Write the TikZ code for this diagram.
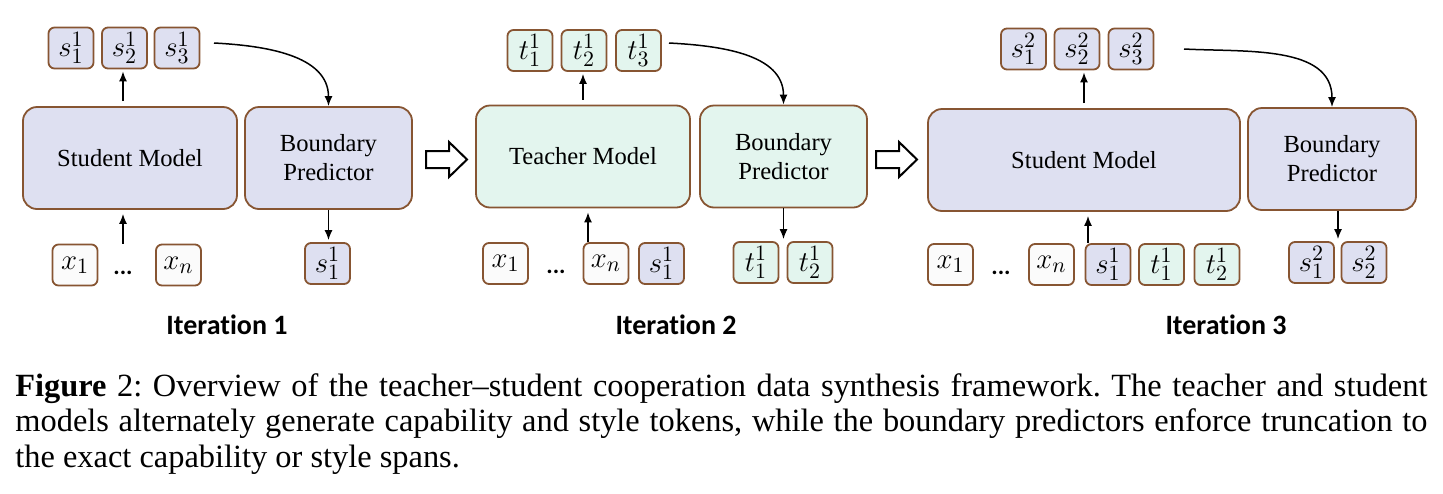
\documentclass[tikz,border=0pt]{standalone}
\usepackage{fontspec}
\setmainfont{Liberation Serif}
\newfontfamily\labelfont[Ligatures=CommonOff]{Carlito}
\usetikzlibrary{arrows.meta}

\definecolor{edgebrown}{RGB}{135,85,50}
\definecolor{studentfill}{RGB}{222,224,241}
\definecolor{teacherfill}{RGB}{227,245,238}
\definecolor{inputfill}{RGB}{251,251,251}

\begin{document}
\begin{tikzpicture}[x=0.5pt,y=-0.5pt,
	model/.style={draw=edgebrown,line width=0.9pt,rounded corners=7pt,minimum height=51pt,align=center,font=\rmfamily\fontsize{12.3}{14.5}\selectfont},
	tok/.style={draw=edgebrown,line width=0.9pt,rounded corners=3pt,minimum width=22.5pt,minimum height=20.5pt,inner sep=0pt,font=\fontsize{15}{17}\selectfont},
	stu/.style={fill=studentfill},
	tea/.style={fill=teacherfill},
	inp/.style={fill=inputfill},
	dotsnode/.style={inner sep=0pt,font=\labelfont\bfseries\fontsize{12}{14}\selectfont},
	flow/.style={-{Latex[length=5pt,width=4pt]},line width=0.75pt},
	iterlabel/.style={font=\labelfont\bfseries\fontsize{14}{16}\selectfont}
	]
  \useasboundingbox (0,0) rectangle (1443,493);

  % iteration 1
  \node[model,stu,minimum width=107pt] (stuA) at (130,158) {Student Model};
  \node[model,stu,minimum width=83.5pt] (bndA) at (328.5,158) {Boundary\\Predictor};
  \foreach \i/\x in {1/71,2/124.5,3/177}
	{
	\node[tok,stu] (sA\i) at (\x,48) {$s_{\i}^{1}$};
	}
  \node[tok,inp] (xA1) at (75,265) {$x_1$};
  \node[dotsnode] (dotsA) at (123,273) {...};
  \node[tok,inp] (xAn) at (178.5,265) {$x_n$};
  \node[tok,stu] (oA1) at (327.5,263.5) {$s_1^1$};
  \node[iterlabel] (itA) at (227,325) {Iteration 1};
  \coordinate (curveA) at (214,43);

  \draw[flow,shorten <=2.5pt,shorten >=1pt] ([xshift=-3.5pt]stuA.north) -- ([xshift=-3.5pt]stuA.north |- sA2.south);
  \draw[flow,shorten >=2pt] ([xshift=-3.5pt]stuA.south |- xA1.north) -- ([xshift=-3.5pt]stuA.south);
  \draw[flow,shorten >=1pt] (bndA.south) -- (bndA.south |- oA1.north);
  \draw[flow] (curveA) to[out=-3,in=90] (bndA.north);

  % iteration 2
  \node[model,tea,minimum width=107pt] (teaB) at (583,156.5) {Teacher Model};
  \node[model,tea,minimum width=83.5pt] (bndB) at (783.5,156.5) {Boundary\\Predictor};
  \foreach \i/\x in {1/530,2/584,3/638.5}
	{
	\node[tok,tea] (tB\i) at (\x,50.5) {$t_{\i}^{1}$};
	}
  \node[tok,inp] (xB1) at (505.5,263.5) {$x_1$};
  \node[dotsnode] (dotsB) at (556,272) {...};
  \node[tok,inp] (xBn) at (606,263.5) {$x_n$};
  \node[tok,stu] (sB) at (661.5,263.5) {$s_1^1$};
  \node[tok,tea] (oB1) at (756,262.5) {$t_1^1$};
  \node[tok,tea] (oB2) at (810,262.5) {$t_2^1$};
  \node[iterlabel] (itB) at (676,325) {Iteration 2};
  \coordinate (curveB) at (669,43);

  \draw[flow,shorten <=2.5pt,shorten >=1pt] (teaB.north) -- (teaB.north |- tB2.south);
  \draw[flow,shorten >=2pt] ([xshift=2.5pt]teaB.south |- xB1.north) -- ([xshift=2.5pt]teaB.south);
  \draw[flow,shorten >=1pt] (bndB.south) -- (bndB.south |- oB1.north);
  \draw[flow] (curveB) to[out=-3,in=90] (bndB.north);

  % iteration 3
  \node[model,stu,minimum width=156pt] (stuC) at (1084,160) {Student Model};
  \node[model,stu,minimum width=84pt] (bndC) at (1332,159) {Boundary\\Predictor};
  \foreach \i/\x in {1/1023.5,2/1077,3/1131}
	{
	\node[tok,stu] (sC\i) at (\x,49) {$s_{\i}^{2}$};
	}
  \node[tok,inp] (xC1) at (950.5,264.5) {$x_1$};
  \node[dotsnode] (dotsC) at (1001,273) {...};
  \node[tok,inp] (xCn) at (1051.5,264.5) {$x_n$};
  \node[tok,stu] (sC) at (1108,264.5) {$s_1^1$};
  \node[tok,tea] (tC1) at (1161.5,264.5) {$t_1^1$};
  \node[tok,tea] (tC2) at (1217,264.5) {$t_2^1$};
  \node[tok,stu] (oC1) at (1311.5,262.5) {$s_1^2$};
  \node[tok,stu] (oC2) at (1364,262.5) {$s_2^2$};
  \node[iterlabel] (itC) at (1226,325) {Iteration 3};
  \coordinate (curveC) at (1184,49);

  \draw[flow,shorten <=2.5pt,shorten >=1pt] (stuC.north) -- (stuC.north |- sC2.south);
  \draw[flow,shorten >=2pt] ([xshift=2pt]stuC.south |- xC1.north) -- ([xshift=2pt]stuC.south);
  \draw[flow,shorten >=1pt] ([xshift=3pt]bndC.south) -- ([xshift=3pt]bndC.south |- oC1.north);
  \draw[flow] (curveC) to[out=-3,in=90] (bndC.north);

  % hollow arrows between iterations
  \foreach \x in {426,876}
	{
	\draw[line width=1pt,fill=white] (\x,151) -- ++(23,0) -- ++(0,-9) -- ++(18,17.5)
		-- ++(-18,17.5) -- ++(0,-9) -- ++(-23,0) -- cycle;
	}

  % caption
  \node[anchor=north west,text width=706pt,align=justify,inner sep=0pt,
	font=\fontsize{16.2}{17.75}\selectfont] (caption) at (15,373)
	{\frenchspacing\textbf{Figure} 2: Overview of the teacher--student cooperation data synthesis framework. The teacher and student\linebreak
	models alternately generate capability and style tokens, while the boundary predictors enforce truncation to\linebreak
	the exact capability or style spans.};
\end{tikzpicture}
\end{document}
